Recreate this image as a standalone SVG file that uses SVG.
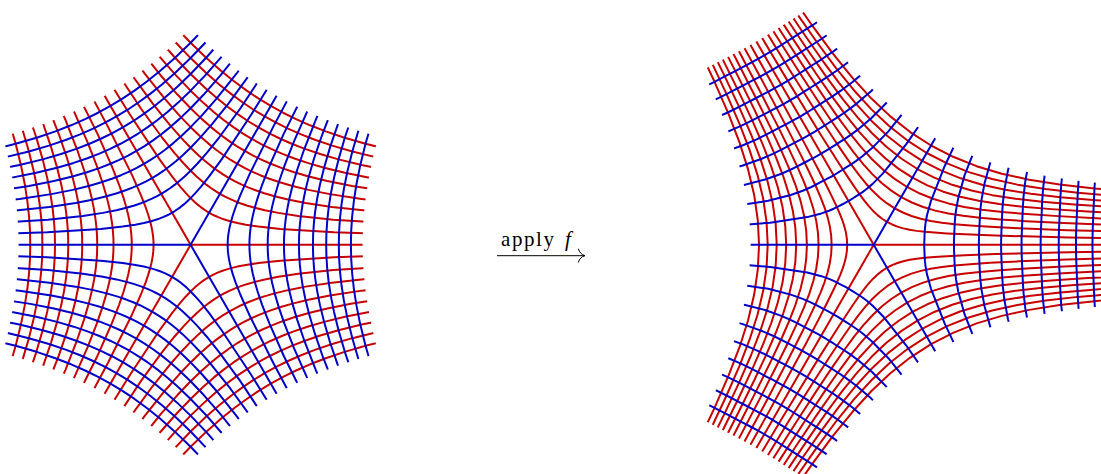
<svg xmlns="http://www.w3.org/2000/svg" width="1101" height="474" viewBox="0 0 1101 474">
<style>
.m{fill:none;stroke-width:2;stroke-linejoin:round;vector-effect:non-scaling-stroke}
.r{stroke:#c80000}
.b{stroke:#0000c8}
.l{stroke-width:2;fill:none}
.t{font-family:"Liberation Serif",serif;font-size:21px;fill:#000}
</style>
<defs>
<path id="bl" class="m b" d="M110.1,-169.53L82.59,-117.95 58.64,-69.88 49.7,-49.7 45.05,-37.8 42.25,-29.59 40.43,-23.34 39.18,-18.27 38.32,-13.95 37.73,-10.11 37.34,-6.58 37.12,-3.25 37.05,0 37.12,3.25 37.34,6.58 37.73,10.11 38.32,13.95 39.18,18.27 40.43,23.34 42.25,29.59 45.05,37.8 49.7,49.7 58.64,69.88 82.59,117.95 110.1,169.53"/>
<path id="rl" class="m r" d="M18.53,-32.09L21.37,-30.52 24.37,-29.05 27.62,-27.62 31.24,-26.21 35.41,-24.8 40.43,-23.34 46.75,-21.8 55.26,-20.11 67.9,-18.19 89.84,-15.84 143.44,-12.55 201.87,-10.58"/>
<path id="br" class="m b" d="M88.62,-116.12L70.92,-78.58 57.23,-43.73 53.29,-29.56 51.84,-21.69 51.26,-16.62 51.02,-13.02 50.9,-10.23 50.8,-7.89 50.71,-5.8 50.63,-3.82 50.58,-1.9 50.56,0 50.58,1.9 50.63,3.82 50.71,5.8 50.8,7.89 50.9,10.23 51.02,13.02 51.26,16.62 51.84,21.69 53.29,29.56 57.23,43.73 70.92,78.58 88.62,116.12"/>
<path id="rr" class="m r" d="M13.25,-22.95L18.35,-20.34 23.78,-18.17 29.61,-16.43 35.94,-15.04 42.97,-13.93 51.02,-13.02 60.72,-12.2 73.27,-11.38 91.26,-10.43 121.83,-9.2 195.44,-7.35 275.32,-6.21"/>
<clipPath id="cl"><polygon points="0,0 83.4,-150.4 85.99,-148.93 99.21,-141.68 113.12,-134.82 128.19,-128.19 145,-121.67 164.38,-115.1 187.66,-108.33 181.86,-84.8 177.87,-64.75 175.13,-46.93 173.32,-30.54 172.3,-15.09 171.97,0 172.3,15.09 173.32,30.54 175.13,46.93 177.87,64.75 181.86,84.8 187.66,108.33 164.38,115.1 145,121.67 128.19,128.19 113.12,134.82 99.21,141.68 85.99,148.93 83.4,150.4"/></clipPath>
<clipPath id="cr"><polygon points="0,0 58.9,-108 61.5,-106.53 85.17,-94.41 110.38,-84.34 137.44,-76.26 166.82,-69.81 199.45,-64.66 236.81,-60.43 236.26,-47.48 235.79,-36.62 235.38,-26.92 235,-17.73 234.77,-8.82 234.67,0 234.77,8.82 235,17.73 235.38,26.92 235.79,36.62 236.26,47.48 236.81,60.43 199.45,64.66 166.82,69.81 137.44,76.26 110.38,84.34 85.17,94.41 61.5,106.53 58.9,108"/></clipPath>
<g id="sl-red">
<line class="l r" x1="0" y1="0" x2="172" y2="0"/>
<g clip-path="url(#cl)">
<use href="#rl"/><use href="#rl" transform="scale(1.5874)"/><use href="#rl" transform="scale(2.0801)"/><use href="#rl" transform="scale(2.5198)"/><use href="#rl" transform="scale(2.924)"/><use href="#rl" transform="scale(3.3019)"/><use href="#rl" transform="scale(3.6593)"/><use href="#rl" transform="scale(4)"/><use href="#rl" transform="scale(4.3267)"/>
<use href="#rl" transform="scale(1,-1)"/><use href="#rl" transform="scale(1.5874,-1.5874)"/><use href="#rl" transform="scale(2.0801,-2.0801)"/><use href="#rl" transform="scale(2.5198,-2.5198)"/><use href="#rl" transform="scale(2.924,-2.924)"/><use href="#rl" transform="scale(3.3019,-3.3019)"/><use href="#rl" transform="scale(3.6593,-3.6593)"/><use href="#rl" transform="scale(4,-4)"/><use href="#rl" transform="scale(4.3267,-4.3267)"/>
</g>
</g>
<g id="sl-blue">
<line class="l b" x1="0" y1="0" x2="86" y2="-148.96"/>
<g clip-path="url(#cl)">
<use href="#bl"/><use href="#bl" transform="scale(1.5874)"/><use href="#bl" transform="scale(2.0801)"/><use href="#bl" transform="scale(2.5198)"/><use href="#bl" transform="scale(2.924)"/><use href="#bl" transform="scale(3.3019)"/><use href="#bl" transform="scale(3.6593)"/><use href="#bl" transform="scale(4)"/><use href="#bl" transform="scale(4.3267)"/>
</g>
</g>
<g id="sr-red">
<line class="l r" x1="0" y1="0" x2="234.7" y2="0"/>
<g clip-path="url(#cr)">
<use href="#rr"/><use href="#rr" transform="scale(1.5874)"/><use href="#rr" transform="scale(2.0801)"/><use href="#rr" transform="scale(2.5198)"/><use href="#rr" transform="scale(2.924)"/><use href="#rr" transform="scale(3.3019)"/><use href="#rr" transform="scale(3.6593)"/><use href="#rr" transform="scale(4)"/><use href="#rr" transform="scale(4.3267)"/>
<use href="#rr" transform="scale(1,-1)"/><use href="#rr" transform="scale(1.5874,-1.5874)"/><use href="#rr" transform="scale(2.0801,-2.0801)"/><use href="#rr" transform="scale(2.5198,-2.5198)"/><use href="#rr" transform="scale(2.924,-2.924)"/><use href="#rr" transform="scale(3.3019,-3.3019)"/><use href="#rr" transform="scale(3.6593,-3.6593)"/><use href="#rr" transform="scale(4,-4)"/><use href="#rr" transform="scale(4.3267,-4.3267)"/>
</g>
</g>
<g id="sr-blue">
<line class="l b" x1="0" y1="0" x2="61.5" y2="-106.53"/>
<g clip-path="url(#cr)">
<use href="#br"/><use href="#br" transform="scale(1.5874)"/><use href="#br" transform="scale(2.0801)"/><use href="#br" transform="scale(2.5198)"/><use href="#br" transform="scale(2.924)"/><use href="#br" transform="scale(3.3019)"/><use href="#br" transform="scale(3.6593)"/><use href="#br" transform="scale(4)"/><use href="#br" transform="scale(4.3267)"/>
</g>
</g>
</defs>
<g id="grid-left" transform="translate(190.6,244.8)">
<use href="#sl-red"/><use href="#sl-red" transform="rotate(120)"/><use href="#sl-red" transform="rotate(240)"/>
<use href="#sl-blue"/><use href="#sl-blue" transform="rotate(120)"/><use href="#sl-blue" transform="rotate(240)"/>
</g>
<g id="grid-right" transform="translate(873.7,244.8)">
<use href="#sr-red"/><use href="#sr-red" transform="rotate(120)"/><use href="#sr-red" transform="rotate(240)"/>
<use href="#sr-blue"/><use href="#sr-blue" transform="rotate(120)"/><use href="#sr-blue" transform="rotate(240)"/>
</g>
<g id="arrow">
<text class="t" x="501" y="245.5" textLength="53" lengthAdjust="spacing">apply</text>
<text class="t" x="565" y="245.5" font-style="italic">f</text>
<path d="M497,255.7H584.5M578.3,248.7C579.2,252 581.5,254.8 585,255.7C581.5,256.6 579.2,259.2 578.3,262.5" fill="none" stroke="#000" stroke-width="1"/>
</g>
</svg>
